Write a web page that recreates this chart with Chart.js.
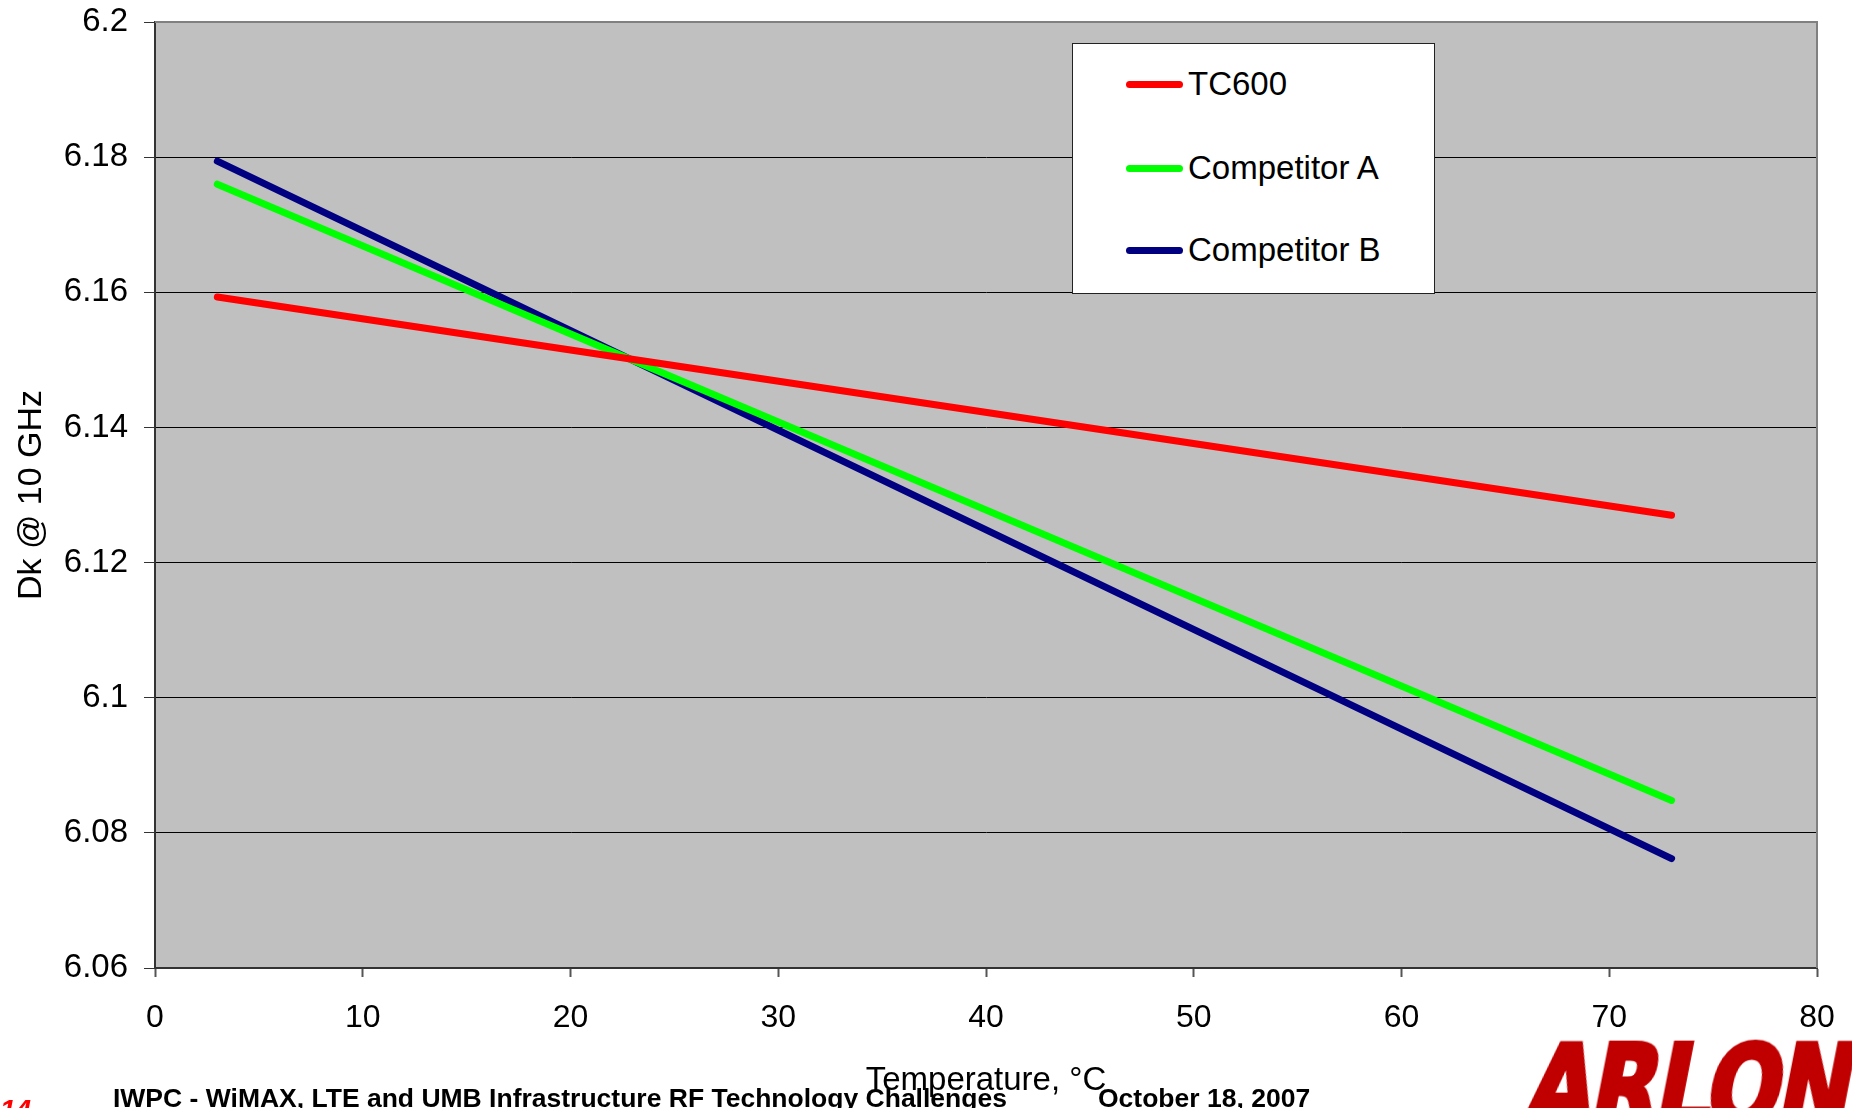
<!DOCTYPE html>
<html lang="en">
<head>
    <meta charset="UTF-8">
    <title>Dk @ 10 GHz vs Temperature</title>
    <script src="https://cdn.jsdelivr.net/npm/chart.js"></script>
    <style>
        html, body {
            margin: 0;
            padding: 0;
            width: 1852px;
            height: 1108px;
            overflow: hidden;
            background: #fff;
            font-family: "Liberation Sans", Arial, sans-serif;
        }
        #chart {
            position: absolute;
            left: 0;
            top: 0;
        }
        .legend {
            position: absolute;
            left: 1072px;
            top: 43px;
            width: 361px;
            height: 249px;
            background: #fff;
            border: 1px solid #222;
        }
        .legend .item {
            position: absolute;
            left: 53px;
            height: 40px;
            display: flex;
            align-items: center;
            font-size: 33px;
            color: #000;
        }
        .legend .swatch {
            width: 57px;
            height: 7px;
            border-radius: 4px;
            margin-right: 5px;
        }
        .footer {
            position: absolute;
            top: 1085px;
            font-size: 26.5px;
            line-height: 26.5px;
            font-weight: bold;
            color: #000;
            white-space: nowrap;
        }
        .pagenum {
            position: absolute;
            left: 0;
            top: 1096px;
            font-size: 28px;
            line-height: 28px;
            font-weight: bold;
            font-style: italic;
            color: #ff0000;
        }
        .logo {
            position: absolute;
            left: 1540px;
            top: 1030px;
            font-family: "DejaVu Sans", sans-serif;
            font-size: 112px;
            line-height: 112px;
            font-weight: bold;
            color: #c00000;
            -webkit-text-stroke: 5px #c00000;
            white-space: nowrap;
            letter-spacing: -3px;
            transform-origin: left top;
            transform: scaleX(0.78) skewX(-14deg);
        }
    </style>
</head>
<body>
    <canvas id="chart" width="1852" height="1108"></canvas>
    <div class="legend" id="legend"></div>
    <div class="footer" style="left:113px">IWPC - WiMAX, LTE and UMB Infrastructure RF Technology Challenges</div>
    <div class="footer" style="left:1098px">October 18, 2007</div>
    <div class="pagenum">14</div>
    <div class="logo">ARLON</div>

    <script>
        // 数据
        const temps = [3, 73];
        const seriesNames = ["TC600", "Competitor A", "Competitor B"];
        const seriesColors = ["#ff0000", "#00ff00", "#000080"];
        const tc600 = [6.1593, 6.1270];
        const competitorA = [6.1760, 6.0848];
        const competitorB = [6.1794, 6.0762];
        const seriesValues = [tc600, competitorA, competitorB];

        const xMin = 0, xMax = 80, xStep = 10;
        const yMin = 6.06, yMax = 6.2, yStep = 0.02;

        const FONT = '"Liberation Sans", Arial, sans-serif';

        // 图例
        const legendEl = document.getElementById("legend");
        const rowCenters = [40, 124, 206];
        seriesNames.forEach((name, i) => {
            const item = document.createElement("div");
            item.className = "item";
            item.style.top = (rowCenters[i] - 20) + "px";
            item.innerHTML = `<span class="swatch" style="background:${seriesColors[i]}"></span><span>${name}</span>`;
            legendEl.appendChild(item);
        });

        // 绘图区背景和边框
        const plotArea = {
            id: "plotArea",
            beforeDraw(chart) {
                const { ctx, chartArea: a } = chart;
                ctx.save();
                ctx.fillStyle = "#c0c0c0";
                ctx.fillRect(a.left, a.top, a.right - a.left, a.bottom - a.top);
                ctx.restore();
            },
            beforeDatasetsDraw(chart) {
                const { ctx, chartArea: a } = chart;
                ctx.save();
                ctx.strokeStyle = "#808080";
                ctx.lineWidth = 2;
                ctx.beginPath();
                ctx.moveTo(a.left, a.top);
                ctx.lineTo(a.right, a.top);
                ctx.lineTo(a.right, a.bottom);
                ctx.stroke();
                ctx.restore();
            }
        };

        const datasets = seriesNames.map((name, i) => ({
            label: name,
            data: temps.map((t, j) => ({ x: t, y: seriesValues[i][j] })),
            borderColor: seriesColors[i],
            backgroundColor: seriesColors[i],
            borderWidth: 7,
            borderCapStyle: "round",
            pointRadius: 0,
            fill: false,
            tension: 0
        }));

        new Chart(document.getElementById("chart").getContext("2d"), {
            type: "line",
            data: { datasets },
            plugins: [plotArea],
            options: {
                responsive: false,
                animation: false,
                devicePixelRatio: 1,
                layout: { padding: { top: 22, right: 35, bottom: 0, left: 0 } },
                plugins: {
                    legend: { display: false },
                    tooltip: { enabled: false }
                },
                scales: {
                    x: {
                        type: "linear",
                        min: xMin,
                        max: xMax,
                        afterFit(scale) {
                            scale.height = 140;
                            scale.paddingLeft = 0;
                            scale.paddingRight = 0;
                        },
                        ticks: {
                            stepSize: xStep,
                            color: "#000",
                            padding: 22,
                            font: { family: FONT, size: 32 }
                        },
                        grid: {
                            drawOnChartArea: false,
                            drawTicks: true,
                            tickLength: 9,
                            tickColor: "#555",
                            tickWidth: 2
                        },
                        border: { color: "#333", width: 2 },
                        title: {
                            display: true,
                            text: "Temperature, °C",
                            color: "#000",
                            font: { family: FONT, size: 33 },
                            padding: { top: 0, bottom: 7 }
                        }
                    },
                    y: {
                        min: yMin,
                        max: yMax,
                        afterFit(scale) {
                            scale.width = 155;
                            scale.paddingTop = 0;
                            scale.paddingBottom = 0;
                        },
                        ticks: {
                            stepSize: yStep,
                            color: "#000",
                            padding: 16,
                            font: { family: FONT, size: 33 },
                            callback: v => String(Number(v.toFixed(2)))
                        },
                        grid: {
                            color: "#000",
                            lineWidth: 1,
                            tickLength: 11,
                            tickColor: "#333"
                        },
                        border: { color: "#333", width: 2 },
                        title: {
                            display: true,
                            text: "Dk @ 10 GHz",
                            color: "#000",
                            font: { family: FONT, size: 34 },
                            padding: { top: 11, bottom: 0 }
                        }
                    }
                }
            }
        });
    </script>
</body>
</html>
